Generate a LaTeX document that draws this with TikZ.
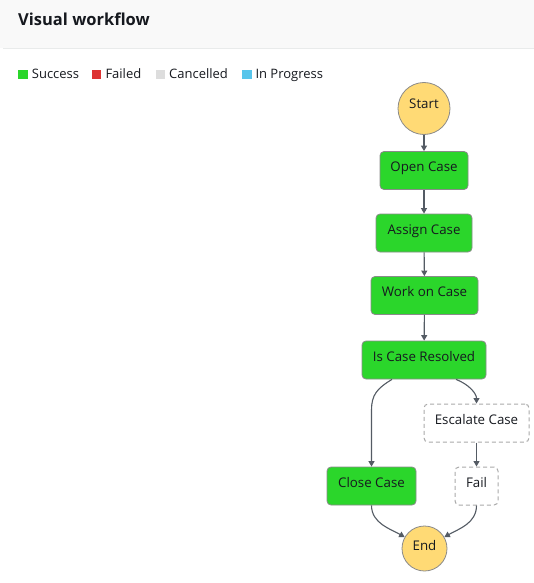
\documentclass[tikz,border=0pt]{standalone}
\usepackage{fontspec}
\setmainfont{Open Sans}
\usetikzlibrary{arrows.meta,calc}
\definecolor{txt}{HTML}{16191F}
\definecolor{edge}{HTML}{545B64}
\definecolor{okgreen}{HTML}{2BD62B}
\definecolor{failred}{HTML}{DD3333}
\definecolor{cancgray}{HTML}{DDDDDD}
\definecolor{progblue}{HTML}{58C5EB}
\definecolor{startfill}{HTML}{FFDA75}
\definecolor{hdrbg}{HTML}{F9F9F9}
\definecolor{hdrline}{HTML}{E9EBEB}
\definecolor{boxline}{HTML}{8A8A8A}
\definecolor{dashline}{HTML}{AAAAAA}
\tikzset{
  lbl/.style={font=\fontsize{13.3}{15}\selectfont, text=txt},
  okbox/.style={lbl, draw=boxline, line width=0.8pt, fill=okgreen, rounded corners=4pt,
    minimum height=38pt, inner xsep=0pt, text height=9.5pt, text depth=7.1pt},
  dashbox/.style={lbl, draw=dashline, line width=1pt, dash pattern=on 4pt off 3pt, fill=white,
    rounded corners=4pt, minimum height=38pt, inner xsep=0pt, text height=9.5pt, text depth=7.1pt},
  term/.style={lbl, circle, draw=boxline, line width=0.8pt, fill=startfill, inner sep=0pt},
  flow/.style={draw=edge, line width=1.1pt, -{Triangle[length=5.5pt,width=6pt]}},
  legsq/.style={minimum size=9.5pt, inner sep=0pt, anchor=north west},
  legtx/.style={font=\fontsize{13}{15}\selectfont, text=txt, anchor=base west, inner sep=0pt},
}
\begin{document}
\begin{tikzpicture}[x=1pt,y=-1pt]
\useasboundingbox (0,0) rectangle (534,583);
\fill[white] (0,0) rectangle (534,583);
% header
\fill[hdrbg] (0,0) rectangle (534,48);
\draw[hdrline, line width=1pt] (3,48.3) -- (534,48.3);
\node[font=\bfseries\fontsize{16.5}{19}\selectfont, text=txt, anchor=base west, inner sep=0pt] (title) at (18,25.7) {Visual workflow};
% legend
\node[legsq, fill=okgreen] (sqs) at (18,69.5) {};
\node[legtx] (ls) at (31.7,79) {Success};
\node[legsq, fill=failred] (sqf) at (91.3,69.5) {};
\node[legtx] (lf) at (105.3,79) {Failed};
\node[legsq, fill=cancgray] (sqc) at (155.3,69.5) {};
\node[legtx] (lc) at (169,79) {Cancelled};
\node[legsq, fill=progblue] (sqp) at (242,69.5) {};
\node[legtx] (lp) at (255.3,79) {In Progress};
% states
\node[term, minimum size=52pt, text height=9.5pt, text depth=9.5pt] (start) at (424,108.5) {Start};
\node[okbox, minimum width=88pt] (open) at (424,170.5) {Open Case};
\node[okbox, minimum width=96pt] (assign) at (424,233) {Assign Case};
\node[okbox, minimum width=107pt] (work) at (424.5,295.5) {Work on Case};
\node[okbox, minimum width=124pt] (isres) at (424,360) {Is Case Resolved};
\node[dashbox, minimum width=105pt] (esc) at (476.5,423) {Escalate Case};
\node[okbox, minimum width=89pt] (close) at (371.5,486) {Close Case};
\node[dashbox, minimum width=43pt] (fail) at (476.5,486) {Fail};
\node[term, minimum size=45pt, text height=9.5pt, text depth=6.5pt] (endc) at (424.5,548.5) {End};
% connectors
\draw[flow] (start) -- (open);
\draw[flow] (open) -- (assign);
\draw[flow] (assign) -- (work);
\draw[flow] (work) -- (isres);
\coordinate (bendL) at (close.north |- 0,410);
\draw[flow] ($(isres.south)+(-32,0)$) .. controls +(-15,9) and +(0,-15) .. (bendL) -- (close.north);
\draw[flow] ($(isres.south)+(32,0)$) .. controls +(13,5) and +(0,-10) .. (esc.north);
\draw[flow] (esc) -- (fail);
\draw[flow] (close.south) .. controls +(0,18) and +(-14,-8) .. (endc.150);
\draw[flow] (fail.south) .. controls +(0,18) and +(14,-8) .. (endc.30);
\end{tikzpicture}
\end{document}
